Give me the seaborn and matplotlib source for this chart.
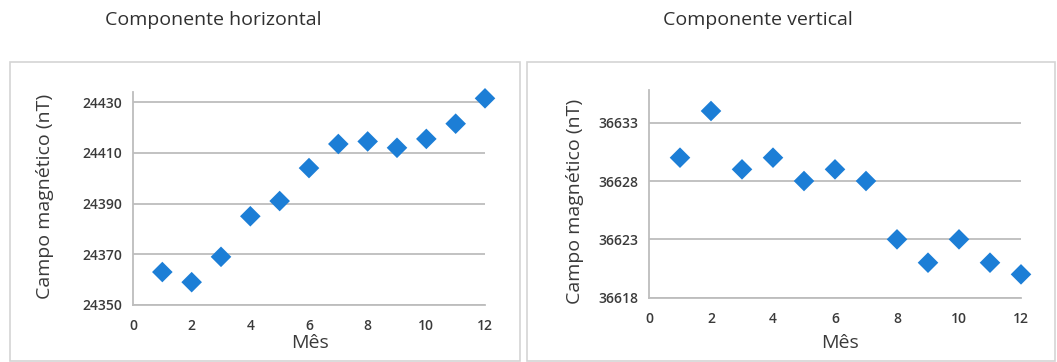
import matplotlib
matplotlib.use("Agg")
import matplotlib.pyplot as plt
import seaborn as sns
import pandas as pd
from matplotlib.patches import Rectangle

months = [1, 2, 3, 4, 5, 6, 7, 8, 9, 10, 11, 12]
horizontal = [24363, 24359, 24369, 24385, 24391, 24404, 24413.5, 24414.5, 24412, 24415.5, 24421.5, 24431.5]
vertical = [36630, 36634, 36629, 36630, 36628, 36629, 36628, 36623, 36621, 36623, 36621, 36620]
x_ticks = [0, 2, 4, 6, 8, 10, 12]
h_ticks = [24350, 24370, 24390, 24410, 24430]
v_ticks = [36618, 36623, 36628, 36633]
titles = ["Componente horizontal", "Componente vertical"]
xlabel = "Mês"
ylabel = "Campo magnético (nT)"

sns.set_theme(style="white")
plt.rcParams['font.family'] = ['Open Sans', 'DejaVu Sans']

W, H = 1057, 362
fig = plt.figure(figsize=(W / 100, H / 100), dpi=100)

def px_rect(x0, y0, x1, y1):
    return [x0 / W, 1 - y1 / H, (x1 - x0) / W, (y1 - y0) / H]

# panel frames
for (x0, y0, x1, y1) in [(10, 62, 520, 361), (527, 62, 1055, 361)]:
    fig.patches.append(Rectangle((x0 / W, 1 - y1 / H), (x1 - x0) / W, (y1 - y0) / H,
                                 transform=fig.transFigure, fill=False,
                                 edgecolor='#d4d4d4', linewidth=1.2))

color = '#1C7ED6'
text_col = '#3a3a3a'
grid_col = '#bdbdbd'

specs = [
    (px_rect(133, 92, 485, 305), horizontal, h_ticks, (24350, 24434), 213, 45, 196, 310),
    (px_rect(649, 90, 1021, 297.7), vertical, v_ticks, (36618, 36635.8), 758, 575, 201, 840),
]

for i, (rect, vals, yt, ylim, tx, ylx, yly, mx) in enumerate(specs):
    ax = fig.add_axes(rect)
    df = pd.DataFrame({"m": months, "v": vals})
    sns.scatterplot(data=df, x="m", y="v", ax=ax, marker='D', s=110, color=color,
                    edgecolor='none', clip_on=False, zorder=3)
    ax.set_xlim(0, 12)
    ax.set_ylim(*ylim)
    ax.set_xticks(x_ticks)
    ax.set_yticks(yt)
    ax.set_yticklabels([str(t) for t in yt])
    ax.grid(axis='y', color=grid_col, linewidth=1.3)
    ax.set_axisbelow(True)
    for s in ['top', 'right']:
        ax.spines[s].set_visible(False)
    for s in ['left', 'bottom']:
        ax.spines[s].set_color(grid_col)
        ax.spines[s].set_linewidth(1.3)
    ax.tick_params(axis='both', which='both', direction='out', length=4, width=1.2,
                   color=grid_col, labelsize=10, labelcolor=text_col, pad=4)
    ax.tick_params(axis='x', pad=6)
    for lab in ax.get_xticklabels() + ax.get_yticklabels():
        lab.set_fontweight('semibold')
    ax.set_xlabel("")
    ax.set_ylabel("")
    fig.text(mx / W, 1 - 343 / H, xlabel, ha='center', va='center', fontsize=14,
             color=text_col, fontweight='medium')
    fig.text(ylx / W, 1 - yly / H, ylabel, ha='center', va='center', fontsize=14,
             rotation=90, color=text_col, fontweight='medium')
    fig.text(tx / W, 1 - 20 / H, titles[i], ha='center', va='center', fontsize=14,
             color='#303030')

fig.savefig("out.png", dpi=100, facecolor='white')
